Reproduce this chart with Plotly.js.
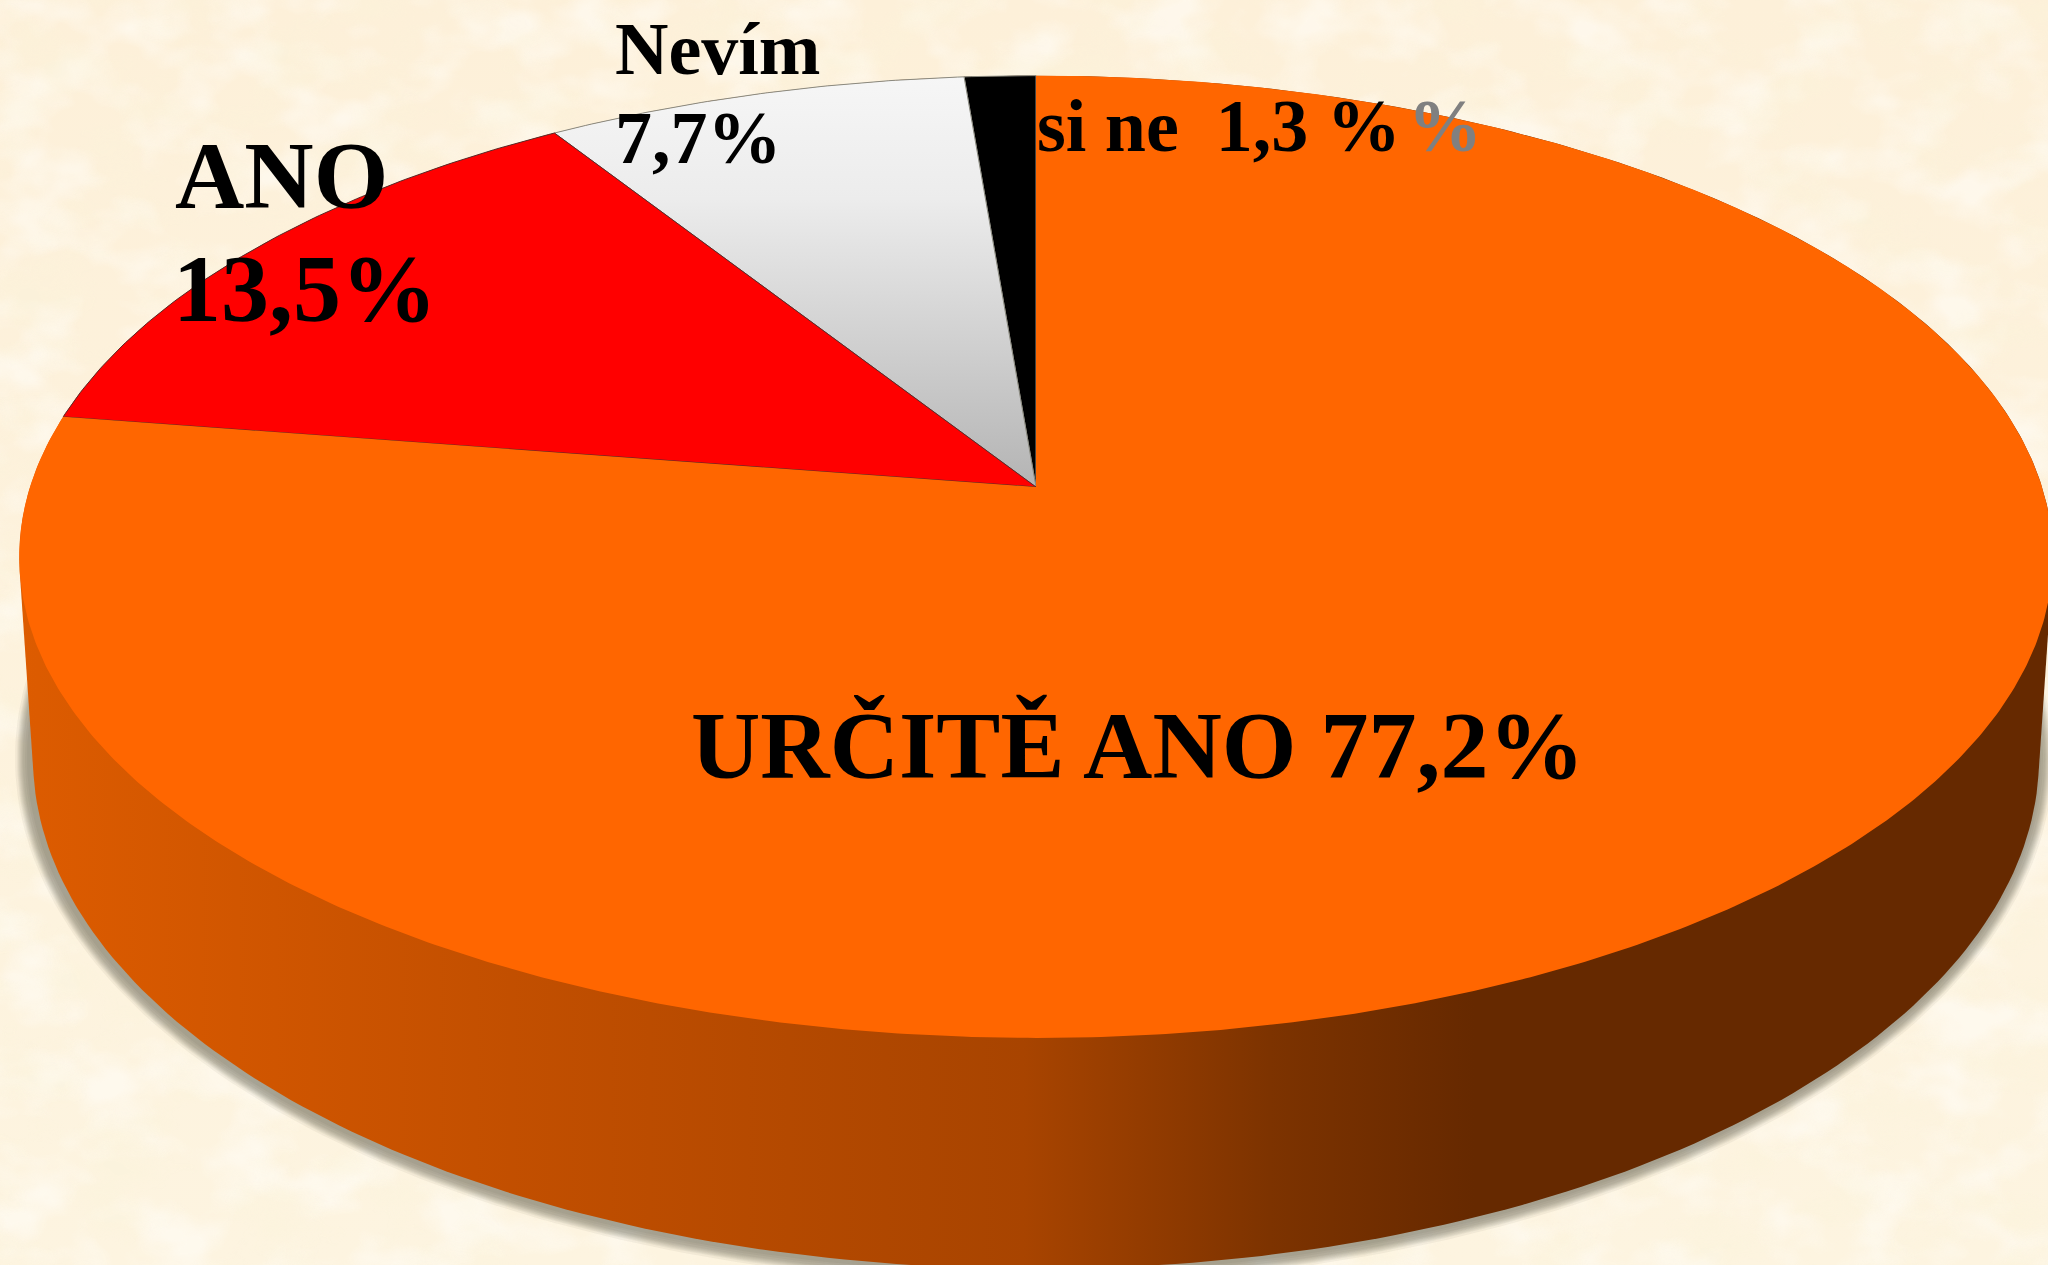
<!DOCTYPE html>
<html><head><meta charset="utf-8">
<script src="https://cdn.plot.ly/plotly-3.0.1.min.js"></script>
<style>
html,body{margin:0;padding:0;width:2048px;height:1265px;overflow:hidden;background:#fdf3de;}
#bg{position:absolute;left:0;top:0;width:2048px;height:1265px;}
#chart{position:absolute;left:0;top:0;width:2048px;height:1265px;}
</style></head><body>
<svg id="bg" xmlns="http://www.w3.org/2000/svg" width="2048" height="1265">
<defs>
<filter id="paperA" x="0" y="0" width="100%" height="100%">
<feTurbulence type="fractalNoise" baseFrequency="0.014 0.02" numOctaves="3" seed="7"/>
<feColorMatrix type="matrix" values="0 0 0 0 1  0 0 0 0 0.98  0 0 0 0 0.93  3 0 0 0 -1.3"/>
</filter>
<filter id="paperB" x="0" y="0" width="100%" height="100%">
<feTurbulence type="fractalNoise" baseFrequency="0.012 0.022" numOctaves="3" seed="3"/>
<feColorMatrix type="matrix" values="0 0 0 0 0.96  0 0 0 0 0.9  0 0 0 0 0.7  3 0 0 0 -1.4"/>
</filter>
<linearGradient id="tint" x1="0" y1="0" x2="0" y2="1"><stop offset="0" stop-color="#fdf0d9"/><stop offset="1" stop-color="#fdf4e0"/></linearGradient></defs>
<rect width="2048" height="1265" fill="url(#tint)"/>
<rect width="2048" height="1265" filter="url(#paperA)" opacity="0.6"/>
<rect width="2048" height="1265" filter="url(#paperB)" opacity="0.35"/>
</svg>
<div id="chart"></div>
<script>
// Data (percent)
var categories = ["si ne", "Nevím", "ANO", "URČITĚ ANO"];
var values = [1.3, 7.7, 13.5, 77.2];

// Styles
var sliceFill = ["#000000", "#f5f5f5", "#ff0000", "#ff6600"];
var wallStops = [[0,"#de5c00"],[0.25,"#c24f00"],[0.5,"#a84400"],[0.62,"#7d3300"],[0.72,"#662900"],[1,"#662900"]];

// Projection of the disc: apex, perspective and the lower rim of the wall
var ax = 1036, ay = 487, R = 1006, B = 471, K = 0.145;
var lowX = 1036, lowY = 758, lowRx = 1003, lowRy = 511;

function rim(share){            // share of the circle, counter-clockwise from 12 o'clock
  var t = -share * 2 * Math.PI, u = Math.sin(t), v = Math.cos(t), d = 1 + K * v;
  return [ax + R * u / d, ay - B * v / d];
}
function ellipse(cx, cy, rx, ry){
  var p = [];
  for (var i = 0; i <= 360; i++){ var a = i * Math.PI / 180; p.push([cx + rx * Math.cos(a), cy + ry * Math.sin(a)]); }
  return p;
}
function hull(pts){
  pts = pts.slice().sort(function(a,b){return a[0]-b[0] || a[1]-b[1];});
  function half(list){
    var h = [];
    list.forEach(function(p){
      while (h.length > 1){
        var o = h[h.length-2], q = h[h.length-1];
        if ((q[0]-o[0])*(p[1]-o[1]) - (q[1]-o[1])*(p[0]-o[0]) <= 0) h.pop(); else break;
      }
      h.push(p);
    });
    h.pop(); return h;
  }
  return half(pts).concat(half(pts.slice().reverse()));
}
function poly(pts, extra){
  var tr = {type:"scatter", mode:"lines", fill:"toself", hoverinfo:"skip", showlegend:false,
    x: pts.map(function(p){return p[0];}), y: pts.map(function(p){return p[1];})};
  for (var k in extra) tr[k] = extra[k];
  return tr;
}

var total = values.reduce(function(a,b){return a+b;},0);
var traces = [];

// soft shadow under the wall
[16,14,13,12,11,10,9,8,6,4].forEach(function(d){
  traces.push(poly(ellipse(lowX - 2, lowY, lowRx + d, lowRy + d),
    {line:{width:0}, fillcolor:"rgba(60,60,55,0.06)"}));
});

// wall
var topRim = [];
for (var i = 0; i <= 720; i++) topRim.push(rim(i / 720));
traces.push(poly(hull(topRim.concat(ellipse(lowX, lowY, lowRx, lowRy))), {
  line:{width:0},
  fillgradient:{type:"horizontal", start:0, stop:2048, colorscale:wallStops}
}));

// slices, from the values
var cum = 0;
values.forEach(function(v, idx){
  var a = cum / total, b = (cum + v) / total, pts = [[ax, ay]];
  var n = Math.max(6, Math.round(v * 8));
  for (var j = 0; j <= n; j++) pts.push(rim(a + (b - a) * j / n));
  pts.push([ax, ay]);
  var extra = {name: categories[idx], line:{width: idx === 3 ? 0 : 1, color: idx === 2 ? "#5a2a2a" : "#8a8a80"}, fillcolor: sliceFill[idx]};
  if (idx === 1){
    extra.fillgradient = {type:"vertical", start:76, stop:487, colorscale:[[0,"#f6f6f6"],[0.3,"#ececec"],[1,"#b4b4b4"]]};
    delete extra.fillcolor;
  }
  traces.push(poly(pts, extra));
  cum += v;
});

function label(text, x, y, size, color){
  return {text:text, x:x, y:y, xref:"x", yref:"y", xanchor:"left", yanchor:"bottom", showarrow:false, align:"left",
    borderpad:0, font:{family:"'Liberation Serif', serif", size:size, color:color || "#000000", weight:700}};
}
var annotations = [
  label("ANO", 174, 230, 96),
  label("13,5%", 172, 343, 96),
  label("Nevím", 614, 91, 74),
  label("7,7%", 614, 180, 74),
  label("si ne&nbsp; 1,3 %", 1036, 168, 74),
  label("%", 1407, 168, 74, "#808080"),
  label("URČITĚ ANO 77,2%", 690, 800, 96)
];

Plotly.newPlot("chart", traces, {
  width:2048, height:1265, margin:{l:0,r:0,t:0,b:0,pad:0},
  paper_bgcolor:"rgba(0,0,0,0)", plot_bgcolor:"rgba(0,0,0,0)",
  showlegend:false, hovermode:false,
  xaxis:{range:[0,2048], visible:false, fixedrange:true},
  yaxis:{range:[1265,0], visible:false, fixedrange:true},
  annotations:annotations
}, {displayModeBar:false, staticPlot:true});
</script>
</body></html>
